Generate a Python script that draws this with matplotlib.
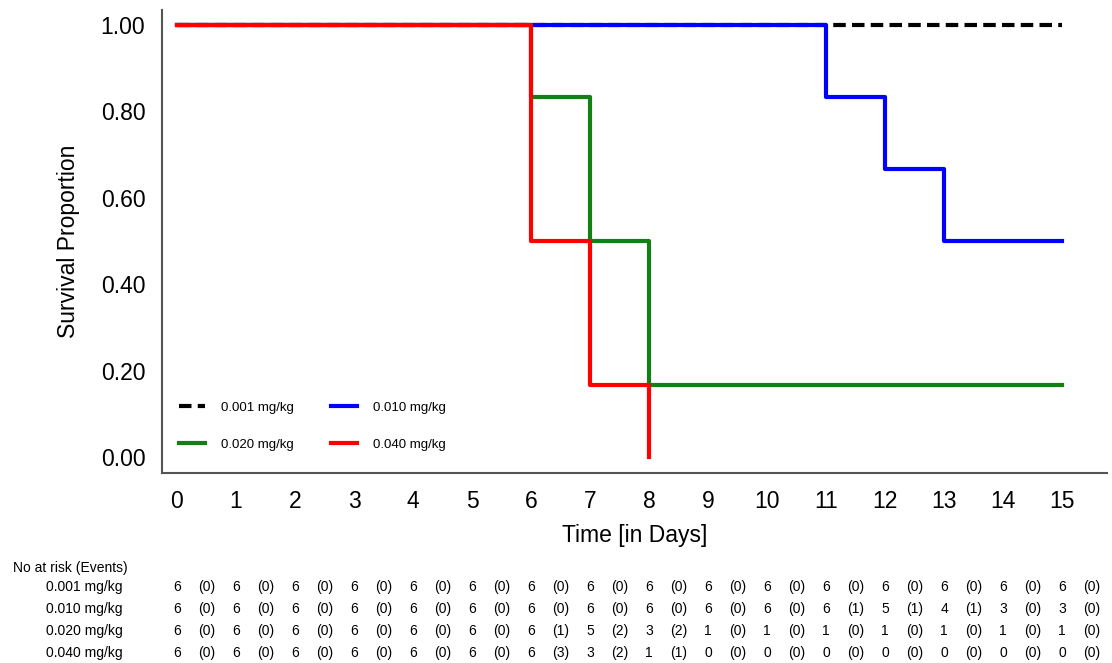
import matplotlib
matplotlib.use("Agg")
import matplotlib.pyplot as plt
from matplotlib.transforms import blended_transform_factory

plt.rcParams['font.family'] = ['Liberation Sans', 'DejaVu Sans']

groups = ["0.001 mg/kg", "0.010 mg/kg", "0.020 mg/kg", "0.040 mg/kg"]
colors = ["black", "#0000ff", "#128012", "#ff0000"]

t_001 = [0, 15]
s_001 = [1.0, 1.0]
t_010 = [0, 11, 12, 13, 15]
s_010 = [1.0, 0.8333, 0.6667, 0.5, 0.5]
t_020 = [0, 6, 7, 8, 15]
s_020 = [1.0, 0.8333, 0.5, 0.1667, 0.1667]
t_040 = [0, 6, 7, 8, 8]
s_040 = [1.0, 0.5, 0.1667, 0.0, 0.0]

days = list(range(16))
risk_001 = [6] * 16
ev_001 = [0] * 16
risk_010 = [6, 6, 6, 6, 6, 6, 6, 6, 6, 6, 6, 6, 5, 4, 3, 3]
ev_010 = [0, 0, 0, 0, 0, 0, 0, 0, 0, 0, 0, 1, 1, 1, 0, 0]
risk_020 = [6, 6, 6, 6, 6, 6, 6, 5, 3, 1, 1, 1, 1, 1, 1, 1]
ev_020 = [0, 0, 0, 0, 0, 0, 1, 2, 2, 0, 0, 0, 0, 0, 0, 0]
risk_040 = [6, 6, 6, 6, 6, 6, 6, 3, 1, 0, 0, 0, 0, 0, 0, 0]
ev_040 = [0, 0, 0, 0, 0, 0, 3, 2, 1, 0, 0, 0, 0, 0, 0, 0]

fig = plt.figure(figsize=(11.12, 6.63), dpi=100)
ax = fig.add_axes([162 / 1112, 1 - 473 / 663, (1107 - 162) / 1112, (473 - 10) / 663])

lw = 3.0
h0, = ax.step(t_001, s_001, where='post', color=colors[0], lw=lw, dashes=(3, 1.5),
              dash_capstyle='butt', label=groups[0])
h1, = ax.step(t_010, s_010, where='post', color=colors[1], lw=lw, label=groups[1])
h2, = ax.step(t_020, s_020, where='post', color=colors[2], lw=lw, label=groups[2])
h3, = ax.step(t_040, s_040, where='post', color=colors[3], lw=lw, label=groups[3])

ax.set_xlim(-0.254, 15.76)
ax.set_ylim(-0.037, 1.035)
ax.set_xticks(days)
ax.set_yticks([0, 0.2, 0.4, 0.6, 0.8, 1.0])
ax.set_yticklabels(["0.00", "0.20", "0.40", "0.60", "0.80", "1.00"])
ax.tick_params(axis='both', length=0, labelsize=16.5)
ax.tick_params(axis='y', pad=12)
ax.tick_params(axis='x', pad=12)
for sp in ['top', 'right']:
    ax.spines[sp].set_visible(False)
for sp in ['left', 'bottom']:
    ax.spines[sp].set_color('#555555')
    ax.spines[sp].set_linewidth(1.5)

ax.set_xlabel("Time [in Days]", fontsize=16.5, labelpad=8)
ax.set_ylabel("Survival Proportion", fontsize=16.5, labelpad=15)

leg = ax.legend([h0, h2, h1, h3], [groups[0], groups[2], groups[1], groups[3]],
                loc='lower left', bbox_to_anchor=(0.005, 0.022), ncol=2, frameon=False,
                fontsize=9.5, labelspacing=1.9, columnspacing=2.8, handlelength=2.0,
                handletextpad=1.2)

# risk table
trans = blended_transform_factory(ax.transData, fig.transFigure)
fs = 10
fig.text(13 / 1112, 1 - 568 / 663, "No at risk (Events)", fontsize=fs, va='center', ha='left')
rows = [(risk_001, ev_001), (risk_010, ev_010), (risk_020, ev_020), (risk_040, ev_040)]
row_y = [587, 609, 631, 653]
for g, (r, e), yp in zip(groups, rows, row_y):
    yf = 1 - yp / 663
    fig.text(123 / 1112, yf, g, fontsize=fs, va='center', ha='right')
    for d, rv, ev in zip(days, r, e):
        ax.text(d, yf, str(rv), transform=trans, fontsize=fs, va='center', ha='center',
                clip_on=False)
        ax.text(d + 0.5, yf, "(%d)" % ev, transform=trans, fontsize=fs, va='center',
                ha='center', clip_on=False)

fig.savefig("out.png", dpi=100)
